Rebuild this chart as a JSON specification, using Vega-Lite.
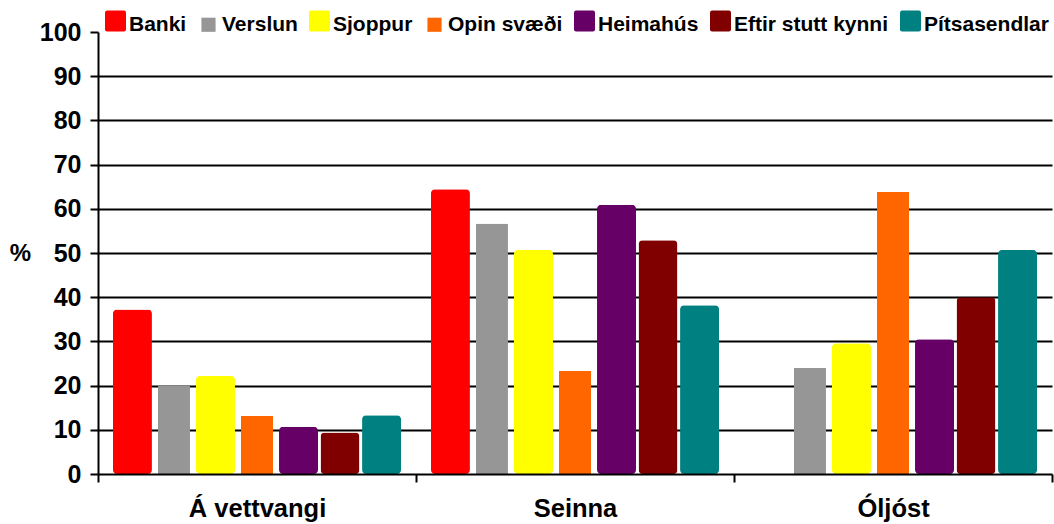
{
  "$schema": "https://vega.github.io/schema/vega-lite/v6.json",
  "width": 954,
  "height": 442,
  "autosize": "none",
  "padding": {"left": 98, "top": 32, "right": 2, "bottom": 50},
  "background": "white",
  "config": {
    "font": "Liberation Sans",
    "view": {"stroke": null}
  },
  "data": {
    "values": [
      {"category": "Á vettvangi", "series": "Banki", "value": 37.2},
      {"category": "Á vettvangi", "series": "Verslun", "value": 19.9},
      {"category": "Á vettvangi", "series": "Sjoppur", "value": 22.2},
      {"category": "Á vettvangi", "series": "Opin svæði", "value": 13.1},
      {"category": "Á vettvangi", "series": "Heimahús", "value": 10.7},
      {"category": "Á vettvangi", "series": "Eftir stutt kynni", "value": 9.4},
      {"category": "Á vettvangi", "series": "Pítsasendlar", "value": 13.3},
      {"category": "Seinna", "series": "Banki", "value": 64.4},
      {"category": "Seinna", "series": "Verslun", "value": 56.6},
      {"category": "Seinna", "series": "Sjoppur", "value": 50.7},
      {"category": "Seinna", "series": "Opin svæði", "value": 23.3},
      {"category": "Seinna", "series": "Heimahús", "value": 60.9},
      {"category": "Seinna", "series": "Eftir stutt kynni", "value": 52.9},
      {"category": "Seinna", "series": "Pítsasendlar", "value": 38.2},
      {"category": "Óljóst", "series": "Verslun", "value": 24.0},
      {"category": "Óljóst", "series": "Sjoppur", "value": 29.6},
      {"category": "Óljóst", "series": "Opin svæði", "value": 63.8},
      {"category": "Óljóst", "series": "Heimahús", "value": 30.5},
      {"category": "Óljóst", "series": "Eftir stutt kynni", "value": 40.0},
      {"category": "Óljóst", "series": "Pítsasendlar", "value": 50.7}
    ]
  },
  "mark": {
    "type": "bar",
    "width": {"expr": "datum.series === 'Verslun' || datum.series === 'Opin svæði' ? 32 : 39"},
    "cornerRadius": {"expr": "datum.series === 'Verslun' || datum.series === 'Opin svæði' ? 0 : 4"},
    "y2Offset": {"expr": "datum.series === 'Verslun' || datum.series === 'Opin svæði' ? 0 : 4"}
  },
  "encoding": {
    "x": {
      "field": "category",
      "type": "nominal",
      "sort": ["Á vettvangi", "Seinna", "Óljóst"],
      "scale": {"paddingInner": 0, "paddingOuter": 0},
      "axis": {
        "title": null,
        "labelAngle": 0,
        "labelFont": "Liberation Sans",
        "labelFontWeight": "bold",
        "labelFontSize": 25.5,
        "labelColor": "black",
        "labelPadding": 14,
        "tickBand": "extent",
        "tickSize": 8,
        "tickWidth": 2,
        "tickColor": "black",
        "domainColor": "black",
        "domainWidth": 2,
        "zindex": 1
      }
    },
    "xOffset": {
      "field": "series",
      "type": "nominal",
      "sort": ["Banki", "Verslun", "Sjoppur", "Opin svæði", "Heimahús", "Eftir stutt kynni", "Pítsasendlar"],
      "scale": {"paddingInner": 0, "paddingOuter": 0.33}
    },
    "y": {
      "field": "value",
      "type": "quantitative",
      "scale": {"domain": [0, 100], "nice": false},
      "axis": {
        "title": "%",
        "titleAngle": 0,
        "titleFont": "Liberation Sans",
        "titleFontWeight": "bold",
        "titleFontSize": 24,
        "titleColor": "black",
        "titleX": -78,
        "titleY": 221,
        "titleAlign": "center",
        "titleBaseline": "middle",
        "values": [0, 10, 20, 30, 40, 50, 60, 70, 80, 90, 100],
        "labelFont": "Liberation Sans",
        "labelFontWeight": "bold",
        "labelFontSize": 25,
        "labelColor": "black",
        "labelPadding": 9,
        "tickSize": 8,
        "tickWidth": 2,
        "tickColor": "black",
        "domainColor": "black",
        "domainWidth": 2,
        "grid": true,
        "gridColor": "black",
        "gridWidth": 2,
        "gridOpacity": {"condition": {"test": "datum.value >= 100 || datum.value <= 0", "value": 0}, "value": 1}
      }
    },
    "color": {
      "field": "series",
      "type": "nominal",
      "scale": {
        "domain": ["Banki", "Verslun", "Sjoppur", "Opin svæði", "Heimahús", "Eftir stutt kynni", "Pítsasendlar"],
        "range": ["#FF0000", "#969696", "#FFFF00", "#FF6600", "#660066", "#800000", "#008080"]
      },
      "legend": {
        "title": null,
        "orient": "none",
        "direction": "horizontal",
        "legendX": 7,
        "legendY": -18,
        "columns": 7,
        "columnPadding": 11,
        "labelFont": "Liberation Sans",
        "labelFontWeight": "bold",
        "labelFontSize": 21,
        "labelColor": "black",
        "labelOffset": 3,
        "labelLimit": 300,
        "symbolType": "square",
        "symbolSize": 441,
        "symbolStrokeWidth": 0,
        "symbolOpacity": 1,
        "encode": {
          "symbols": {
            "update": {
              "size": {"signal": "datum.value === 'Verslun' || datum.value === 'Opin svæði' ? 200 : 441"},
              "shape": {"signal": "datum.value === 'Verslun' || datum.value === 'Opin svæði' ? 'square' : 'M-0.8,-1.35L0.8,-1.35Q1,-1.35,1,-1.15L1,0.45Q1,0.65,0.8,0.65L-0.8,0.65Q-1,0.65,-1,0.45L-1,-1.15Q-1,-1.35,-0.8,-1.35Z'"}
            }
          }
        }
      }
    }
  }
}
